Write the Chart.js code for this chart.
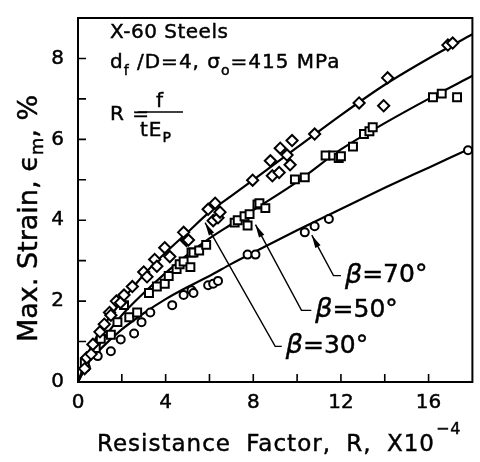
<!DOCTYPE html>
<html>
<head>
<meta charset="utf-8">
<script src="https://cdn.jsdelivr.net/npm/chart.js@4.4.0/dist/chart.umd.min.js"></script>
<style>
  html, body { margin: 0; padding: 0; background: #fff; }
</style>
</head>
<body>
<canvas id="chart" width="480" height="462"></canvas>
<script>
// beta = 30 deg, open diamonds (top curve)
const beta30X = [0.4, 0.3, 0.6, 0.68, 1.0, 1.2, 1.44, 1.5, 1.75, 1.94, 2.1, 2.48, 3.0, 3.15, 3.5, 3.6, 3.96, 4.19, 4.82, 4.95,
                 5.04, 5.94, 6.17, 6.26, 6.39, 6.48, 7.97, 8.78, 8.87, 9.18, 9.23, 9.54, 9.68, 9.77, 10.8, 12.83, 13.95, 14.13, 16.88, 17.1];
const beta30Y = [0.6, 0.33, 0.69, 0.93, 1.24, 1.43, 1.72, 1.65, 2.0, 1.96, 2.15, 2.36, 2.72, 2.6, 3.03, 2.86, 3.32, 3.1, 3.7, 3.5,
                 3.51, 4.27, 3.99, 4.42, 4.06, 4.2, 4.99, 5.47, 5.1, 5.18, 5.78, 5.61, 5.37, 5.97, 6.13, 6.9, 6.83, 7.52, 8.33, 8.38];

// beta = 50 deg, open squares (middle curve)
const beta50X = [0.31, 0.81, 1.04, 1.5, 1.8, 2.1, 2.34, 2.7, 3.24, 3.6, 3.96, 4.14, 4.5, 4.64, 4.82, 5.13, 5.18, 5.27, 5.53, 5.85,
                 7.15, 7.29, 7.6, 7.74, 7.83, 8.19, 8.28, 8.55, 9.9, 10.35, 11.3, 11.65, 11.9, 12.0, 12.55, 13.05, 13.3, 13.45, 16.2, 16.6, 17.3];
const beta50Y = [0.48, 0.84, 1.07, 1.17, 1.48, 1.9, 1.6, 1.72, 2.2, 2.36, 2.43, 2.62, 2.79, 2.91, 2.98, 2.84, 3.2, 3.2, 3.25, 3.39,
                 3.94, 4.0, 4.1, 3.87, 4.15, 4.39, 4.42, 4.3, 5.01, 5.06, 5.6, 5.6, 5.54, 5.58, 5.82, 6.13, 6.2, 6.3, 7.04, 7.13, 7.04];

// beta = 70 deg, open circles (bottom curve)
const beta70X = [0.36, 0.9, 1.5, 1.95, 2.56, 2.9, 3.3, 4.3, 4.82, 5.18, 5.27, 5.94, 6.17, 6.39, 7.74, 8.1, 10.35, 10.8, 11.45, 17.8];
const beta70Y = [0.36, 0.64, 0.76, 1.05, 1.2, 1.48, 1.72, 1.9, 2.15, 2.27, 2.2, 2.39, 2.43, 2.5, 3.15, 3.15, 3.7, 3.85, 4.03, 5.73];

// fitted curves
const fitX  = [0, 0.5, 1, 2, 3, 4, 5, 6, 7, 8, 10, 12, 14, 16, 18];
const fit30 = [0, 0.75, 1.25, 2.0, 2.65, 3.2, 3.7, 4.2, 4.6, 5.0, 5.8, 6.6, 7.35, 8.0, 8.6];
const fit50 = [0, 0.55, 0.95, 1.65, 2.2, 2.7, 3.15, 3.55, 3.9, 4.25, 4.95, 5.75, 6.4, 7.0, 7.57];
const fit70 = [0, 0.5, 0.8, 1.3, 1.7, 2.05, 2.35, 2.62, 2.92, 3.2, 3.75, 4.28, 4.8, 5.3, 5.8];

const xTickLabels = [0, 4, 8, 12, 16];
const yTickLabels = [0, 2, 4, 6, 8];
const xMarks = [2, 4, 6, 8, 10, 12, 14, 16];
const yMarks = [1, 2, 3, 4, 5, 6, 7, 8];

// leader arrows: tip on curve, bend, end of hook (data units)
const leaders = [
  { text: '30°', tip: [5.8, 3.94], bend: [9.0, 0.88], hook: 9.3 },
  { text: '50°', tip: [8.1, 3.89], bend: [10.2, 1.77], hook: 10.65 },
  { text: '70°', tip: [10.67, 3.63], bend: [11.66, 2.63], hook: 12.0 }
];

const pts = (xs, ys) => xs.map((v, i) => ({ x: v, y: ys[i] }));
const FONT = 'DejaVu Sans';

// draw text pieces one after another; a thin stroke makes the glyphs heavier like the scan
function runs(ctx, x, y, parts) {
  parts.forEach(([t, size, dy, style]) => {
    ctx.font = (style || '') + ' ' + size + 'px "' + FONT + '"';
    ctx.fillText(t, x, y + (dy || 0));
    ctx.lineWidth = 0.45;
    ctx.strokeText(t, x, y + (dy || 0));
    x += ctx.measureText(t).width;
  });
  return x;
}

const decor = {
  id: 'decor',
  afterDatasetsDraw(chart) {
    const { ctx, chartArea: a, scales: { x, y } } = chart;
    ctx.save();
    ctx.strokeStyle = '#000';
    ctx.fillStyle = '#000';

    // frame + inward ticks
    ctx.lineWidth = 2;
    ctx.strokeRect(a.left, a.top, a.right - a.left, a.bottom - a.top);
    ctx.lineWidth = 1.6;
    ctx.beginPath();
    xMarks.forEach(v => {
      const px = x.getPixelForValue(v);
      ctx.moveTo(px, a.bottom); ctx.lineTo(px, a.bottom - 8);
    });
    yMarks.forEach(v => {
      const py = y.getPixelForValue(v);
      ctx.moveTo(a.left, py); ctx.lineTo(a.left + 8, py);
    });
    ctx.stroke();

    // leaders and labels
    leaders.forEach(l => {
      const tx = x.getPixelForValue(l.tip[0]), ty = y.getPixelForValue(l.tip[1]);
      const bx = x.getPixelForValue(l.bend[0]), by = y.getPixelForValue(l.bend[1]);
      const hx = x.getPixelForValue(l.hook);
      ctx.lineWidth = 1.4;
      ctx.beginPath();
      ctx.moveTo(tx, ty); ctx.lineTo(bx, by); ctx.lineTo(hx, by);
      ctx.stroke();
      const ang = Math.atan2(ty - by, tx - bx);
      const c = Math.cos(ang), s = Math.sin(ang);
      ctx.beginPath();
      ctx.moveTo(tx, ty);
      ctx.lineTo(tx - 13 * c + 3 * s, ty - 13 * s - 3 * c);
      ctx.lineTo(tx - 13 * c - 3 * s, ty - 13 * s + 3 * c);
      ctx.closePath();
      ctx.fill();
      ctx.textBaseline = 'middle';
      runs(ctx, hx + 4, by, [['β', 27, 0, 'italic'], ['=' + l.text, 25, 0]]);
    });

    // text block, upper left
    ctx.textBaseline = 'alphabetic';
    ctx.letterSpacing = '0.5px';
    runs(ctx, 110, 38, [['X-60 Steels', 20]]);
    ctx.letterSpacing = '1px';
    runs(ctx, 110, 68, [['d', 20], ['f', 14, 7], [' /D=4, σ', 20], ['o', 14, 7], ['=415 MPa', 20]]);
    runs(ctx, 110, 120, [['R =', 20]]);
    ctx.lineWidth = 1.6;
    ctx.beginPath();
    ctx.moveTo(138, 112); ctx.lineTo(183, 112);
    ctx.stroke();
    ctx.textAlign = 'center';
    runs(ctx, 160, 107, [['f', 20]]);
    ctx.textAlign = 'left';
    runs(ctx, 140, 136, [['tE', 20], ['P', 14, 6]]);

    // x title
    ctx.letterSpacing = '1px';
    ctx.wordSpacing = '7px';
    const ex = runs(ctx, 97, 451, [['Resistance Factor, R, X10', 23]]);
    ctx.wordSpacing = '0px';
    runs(ctx, ex + 1, 434, [['−4', 16]]);

    // y title
    ctx.letterSpacing = '0px';
    ctx.translate(37, 342);
    ctx.rotate(-Math.PI / 2);
    runs(ctx, 0, 0, [['Max. Strain, ϵ', 27], ['m', 18, 6], [', %', 27]]);
    ctx.restore();
  }
};

const marker = { backgroundColor: '#fff', borderColor: '#000', borderWidth: 2, showLine: false };
const fitLine = { showLine: true, pointRadius: 0, borderColor: '#000', borderWidth: 2.2, cubicInterpolationMode: 'monotone', fill: false };
const tickFont = { family: FONT, size: 20 };

new Chart(document.getElementById('chart'), {
  type: 'scatter',
  data: {
    datasets: [
      { label: 'β=30°', data: pts(beta30X, beta30Y), pointStyle: 'rectRot', pointRadius: 5.6, ...marker },
      { label: 'β=50°', data: pts(beta50X, beta50Y), pointStyle: 'rect', pointRadius: 5.6, ...marker },
      { label: 'β=70°', data: pts(beta70X, beta70Y), pointStyle: 'circle', pointRadius: 4, ...marker },
      { label: 'fit 30', data: pts(fitX, fit30), ...fitLine },
      { label: 'fit 50', data: pts(fitX, fit50), ...fitLine },
      { label: 'fit 70', data: pts(fitX, fit70), ...fitLine }
    ]
  },
  options: {
    responsive: false,
    animation: false,
    devicePixelRatio: 1,
    layout: { padding: { top: 5, right: 2, left: 0, bottom: 0 } },
    plugins: { legend: { display: false }, tooltip: { enabled: false } },
    scales: {
      x: {
        type: 'linear', min: 0, max: 18,
        afterFit(s) { s.height = 80; },
        grid: { display: false }, border: { display: false },
        ticks: {
          stepSize: 4, includeBounds: false, padding: 1, color: '#000', maxRotation: 0,
          font: tickFont, textStrokeColor: '#000', textStrokeWidth: 0.45,
          callback: v => xTickLabels.includes(v) ? String(v) : ''
        }
      },
      y: {
        type: 'linear', min: 0, max: 9,
        afterFit(s) { s.width = 78; },
        grid: { display: false }, border: { display: false },
        ticks: {
          stepSize: 2, includeBounds: false, padding: 6, color: '#000',
          font: tickFont, textStrokeColor: '#000', textStrokeWidth: 0.45,
          callback: v => yTickLabels.includes(v) ? String(v) : ''
        }
      }
    }
  },
  plugins: [decor]
});
</script>
</body>
</html>
